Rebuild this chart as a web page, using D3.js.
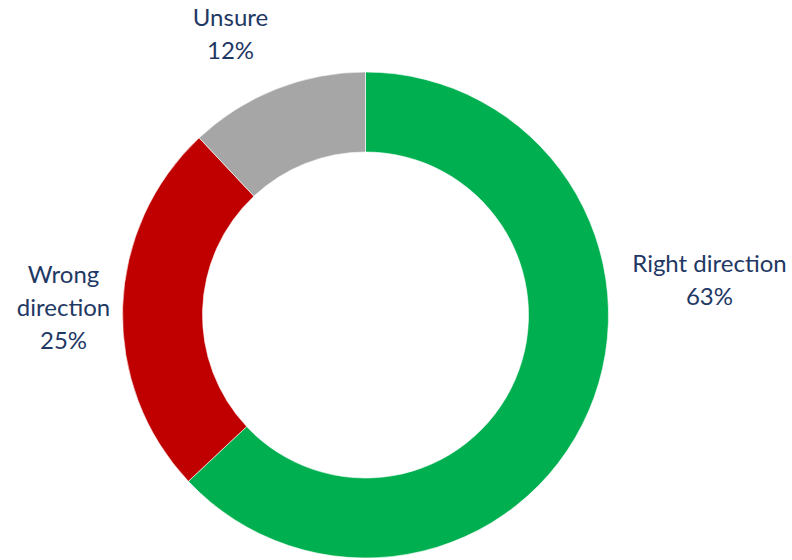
<!DOCTYPE html>
<html>
<head>
<meta charset="utf-8">
<script src="https://cdn.jsdelivr.net/npm/d3@7"></script>
<style>
  html, body { margin: 0; padding: 0; background: #fff; }
  svg { display: block; }
</style>
</head>
<body>
<div id="chart-container"></div>
<script>
// data
const categories = ['Right direction', 'Wrong direction', 'Unsure'];
const values = [63, 25, 12];
const palette = ['#00B050', '#C00000', '#A6A6A6'];

// label lines (how each label wraps)
const labelLines = [['Right direction'], ['Wrong', 'direction'], ['Unsure']];

// layout
const width = 792;
const height = 560;
const cx = 365.5;
const cy = 315;
const outerR = 243;
const innerR = 163;
const lineH = 33;
// label anchor (x centre, first baseline) relative to the donut centre
const labelAnchor = [
  {dx: 344, dy: -43},
  {dx: -302, dy: -32},
  {dx: -135, dy: -289},
];

const svg = d3.select('#chart-container')
    .append('svg')
    .attr('width', width)
    .attr('height', height);

const g = svg.append('g')
    .attr('transform', `translate(${cx}, ${cy})`);

const pie = d3.pie()
    .sort(null)
    .value((d) => d);

const arc = d3.arc()
    .innerRadius(innerR)
    .outerRadius(outerR);

const arcs = pie(values);

g.selectAll('path')
    .data(arcs)
    .enter()
    .append('path')
    .attr('d', arc)
    .attr('fill', (d, i) => palette[i])
    .attr('stroke', '#ffffff')
    .attr('stroke-width', 0.6);

// labels: name lines then percentage
const labels = g.selectAll('text.lbl')
    .data(arcs)
    .enter()
    .append('text')
    .attr('class', 'lbl')
    .attr('text-anchor', 'middle')
    .attr('font-family', 'Lato, "Open Sans", sans-serif')
    .attr('font-size', '24px')
    .attr('fill', '#1F3864');

labels.each(function(d, i) {
  const t = d3.select(this);
  const a = labelAnchor[i];
  const lines = labelLines[i].concat([values[i] + '%']);
  lines.forEach((s, k) => {
    t.append('tspan')
        .attr('x', a.dx)
        .attr('y', a.dy + k * lineH)
        .text(s);
  });
});
</script>
</body>
</html>
